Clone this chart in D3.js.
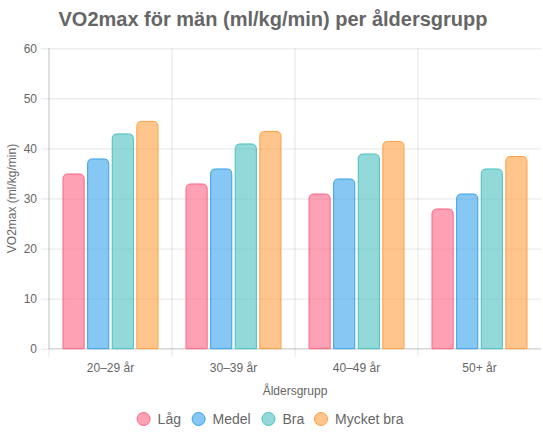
<!DOCTYPE html>
<html>
<head>
<meta charset="utf-8">
<script src="https://cdn.jsdelivr.net/npm/d3@7"></script>
<style>
  body { margin: 0; background: #fff; }
  svg { display: block; font-family: "Liberation Sans", Arial, Helvetica, sans-serif; }
</style>
</head>
<body>
<svg></svg>
<script>
// chart data
var categories = ["20–29 år", "30–39 år", "40–49 år", "50+ år"];
var seriesNames = ["Låg", "Medel", "Bra", "Mycket bra"];
var lag = [35, 33, 31, 28];
var medel = [38, 36, 34, 31];
var bra = [43, 41, 39, 36];
var mycketBra = [45.5, 43.5, 41.5, 38.5];
var yTicks = [0, 10, 20, 30, 40, 50, 60];

var seriesValues = [lag, medel, bra, mycketBra];
var fills = ["rgba(255,99,132,0.6)", "rgba(54,162,235,0.6)", "rgba(75,192,192,0.6)", "rgba(255,159,64,0.6)"];
var strokes = ["rgb(255,99,132)", "rgb(54,162,235)", "rgb(75,192,192)", "rgb(255,159,64)"];

var width = 543;
var height = 433;

var svg = d3.select("svg")
  .attr("width", width)
  .attr("height", height);

// plot area
var margin = { top: 48.3, right: 2, bottom: 84.3, left: 49 };
var x0 = margin.left, x1 = width - margin.right;
var yTop = margin.top, yBottom = height - margin.bottom;

var x = d3.scaleBand()
  .domain(categories)
  .range([x0, x1])
  .padding(0);

var xInner = d3.scaleBand()
  .domain(seriesNames)
  .range([x.bandwidth() * 0.1, x.bandwidth() * 0.9])
  .paddingInner(0.1)
  .paddingOuter(0.05);

var y = d3.scaleLinear()
  .domain([0, 60])
  .range([yBottom, yTop]);

var gridColor = "rgba(0,0,0,0.1)";

// horizontal grid + tick marks
var gridY = svg.append("g")
  .attr("transform", "translate(" + (x0 - 8) + ",0)")
  .call(d3.axisLeft(y).tickValues(yTicks).tickSize(-(x1 - x0 + 8)).tickFormat(""));
gridY.select(".domain").remove();
gridY.selectAll("line").attr("stroke", gridColor);

// vertical grid + tick marks (category boundaries)
var bounds = categories.map(function(c) { return x(c); });
svg.append("g").selectAll("line")
  .data(bounds)
  .enter()
  .append("line")
  .attr("x1", function(d) { return d; })
  .attr("x2", function(d) { return d; })
  .attr("y1", yTop)
  .attr("y2", yBottom + 8)
  .attr("stroke", gridColor);

// axis borders
svg.append("line")
  .attr("x1", x0).attr("x2", x0)
  .attr("y1", yTop).attr("y2", yBottom)
  .attr("stroke", "rgba(0,0,0,0.15)");
svg.append("line")
  .attr("x1", x0).attr("x2", x1)
  .attr("y1", yBottom).attr("y2", yBottom)
  .attr("stroke", "rgba(0,0,0,0.15)");

// y tick labels
var yLabels = svg.append("g")
  .attr("transform", "translate(" + (x0 - 8) + ",0)")
  .call(d3.axisLeft(y).tickValues(yTicks).tickSize(0).tickPadding(4));
yLabels.select(".domain").remove();
yLabels.selectAll("text")
  .attr("fill", "#666")
  .style("font-size", "12px")
  .style("font-family", "Liberation Sans, Arial, sans-serif");

// x tick labels
var xLabels = svg.append("g")
  .attr("transform", "translate(0," + yBottom + ")")
  .call(d3.axisBottom(x).tickSize(0).tickPadding(15));
xLabels.select(".domain").remove();
xLabels.selectAll("text")
  .attr("fill", "#666")
  .style("font-size", "12px")
  .style("font-family", "Liberation Sans, Arial, sans-serif");

// bars with rounded tops
function barPath(bx, by, bw, bh, r) {
  r = Math.min(r, bw / 2, bh);
  return "M" + bx + "," + (by + bh) +
    "V" + (by + r) +
    "Q" + bx + "," + by + " " + (bx + r) + "," + by +
    "H" + (bx + bw - r) +
    "Q" + (bx + bw) + "," + by + " " + (bx + bw) + "," + (by + r) +
    "V" + (by + bh) + "Z";
}

seriesNames.forEach(function(name, si) {
  svg.append("g").selectAll("path")
    .data(seriesValues[si])
    .enter()
    .append("path")
    .attr("d", function(d, i) {
      var bx = x(categories[i]) + xInner(name) + 0.5;
      var by = y(d) + 0.5;
      return barPath(bx, by, xInner.bandwidth() - 1, yBottom - by, 5);
    })
    .attr("fill", fills[si])
    .attr("stroke", strokes[si])
    .attr("stroke-width", 1);
});

// title
svg.append("text")
  .attr("x", 273)
  .attr("y", 26)
  .attr("text-anchor", "middle")
  .attr("fill", "#666")
  .style("font-size", "20px")
  .style("font-weight", "bold")
  .text("VO2max för män (ml/kg/min) per åldersgrupp");

// axis titles
svg.append("text")
  .attr("x", (x0 + x1) / 2)
  .attr("y", 394.5)
  .attr("text-anchor", "middle")
  .attr("fill", "#666")
  .style("font-size", "12px")
  .text("Åldersgrupp");

svg.append("text")
  .attr("transform", "translate(16," + ((yTop + yBottom) / 2) + ") rotate(-90)")
  .attr("text-anchor", "middle")
  .attr("fill", "#666")
  .style("font-size", "12px")
  .text("VO2max (ml/kg/min)");

// legend
var legendX = [143.6, 198.6, 268.5, 321];
var legend = svg.append("g").selectAll("g")
  .data(seriesNames)
  .enter()
  .append("g")
  .attr("transform", function(d, i) { return "translate(" + legendX[i] + ",419)"; });

legend.append("circle")
  .attr("r", 6.5)
  .attr("fill", function(d, i) { return fills[i]; })
  .attr("stroke", function(d, i) { return strokes[i]; })
  .attr("stroke-width", 1);

legend.append("text")
  .attr("x", 14)
  .attr("y", 5)
  .attr("fill", "#666")
  .style("font-size", "14px")
  .text(function(d) { return d; });
</script>
</body>
</html>
